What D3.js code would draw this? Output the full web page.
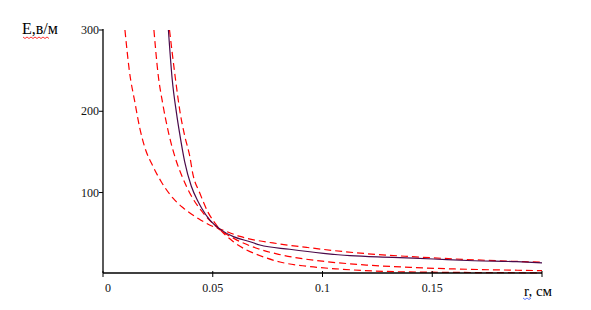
<!DOCTYPE html>
<html><head><meta charset="utf-8">
<script src="https://cdn.jsdelivr.net/npm/d3@7"></script>
<style>body{margin:0;background:#fff}svg{display:block}</style>
</head><body>
<script>
// Data (r in cm, E in V/m)
const rA = [0.0100,0.0120,0.0146,0.0167,0.0190,0.0228,0.0266,0.0319,0.0366,0.0434,0.0503,0.0524,0.0624,0.0806,0.0928,0.1004,0.1200,0.1376,0.1550,0.1748,0.2000];
const eA = [300,250,210,180,156,132,113,93,81,68,58,56,46,36.7,32.5,30,24.8,21.6,19,16.6,14.2];

const rB = [0.0232,0.0250,0.0273,0.0300,0.0330,0.0360,0.0400,0.0450,0.0500,0.0524,0.0600,0.0700,0.0800,0.0900,0.1000,0.1200,0.1400,0.1600,0.1800,0.2000];
const eB = [300,248,208,172,142,120,97,77,62,56,43,31.5,24,19,15.5,10.8,7.9,6.0,4.8,3.9];

const rC = [0.0298,0.0315,0.0335,0.0349,0.0372,0.0402,0.0433,0.0449,0.0487,0.0533,0.0594,0.0670,0.0715,0.0850,0.1004,0.1125,0.1320,0.1505,0.1690,0.1885,0.2000];
const eC = [300,240,197.5,173,138,108,89,81,66,55,45.7,39.5,35.5,30.2,25.2,22.3,20.3,18.2,16.1,14.9,13.5];

const rD = [0.0303,0.0330,0.0351,0.0372,0.0395,0.0410,0.0440,0.0480,0.0517,0.0594,0.0654,0.0700,0.0806,0.0928,0.1080,0.1280,0.1500,0.1750,0.2000];
const eD = [300,240,199,170,145,122,100,75,60,39.5,29.3,24,14.5,9.3,5.8,3.0,2.0,1.5,1.2];

const xTicks = [0,0.05,0.1,0.15];
const xTickLabels = ["0","0.05","0.1","0.15"];
const yTicks = [100,200,300];
const yTickLabels = ["100","200","300"];

const W = 591, H = 310;
const svg = d3.select("body").append("svg").attr("width",W).attr("height",H);
const x = d3.scaleLinear().domain([0,0.2]).range([103,542]);
const y = d3.scaleLinear().domain([1,300]).range([273,30]);

svg.append("defs").append("clipPath").attr("id","c")
  .append("rect").attr("x",103).attr("y",29).attr("width",441).attr("height",245);

const line = d3.line().x(d=>x(d[0])).y(d=>y(Math.max(d[1],1))).curve(d3.curveMonotoneX);
const g = svg.append("g").attr("clip-path","url(#c)");
const series = [
  {r:rA,e:eA,c:"#ff0000",dash:"7,4"},
  {r:rB,e:eB,c:"#ff0000",dash:"7,4"},
  {r:rD,e:eD,c:"#ff0000",dash:"7,4"},
  {r:rC,e:eC,c:"#4a0a4a",dash:null}
];
series.forEach(s=>{
  g.append("path").datum(s.r.map((v,i)=>[v,s.e[i]]))
   .attr("d",line).attr("fill","none").attr("stroke",s.c).attr("stroke-width",1.2)
   .attr("stroke-dasharray",s.dash);
});

// axes
const font = "'Liberation Serif', 'Times New Roman', serif";
svg.append("line").attr("x1",103).attr("x2",103).attr("y1",29).attr("y2",273).attr("stroke","#000").attr("stroke-width",1.3);
svg.append("line").attr("x1",103).attr("x2",542).attr("y1",273).attr("y2",273).attr("stroke","#000").attr("stroke-width",1.3);
yTicks.forEach((t,i)=>{
  svg.append("line").attr("x1",99).attr("x2",103).attr("y1",y(t)).attr("y2",y(t)).attr("stroke","#000");
  svg.append("text").attr("x",99).attr("y",y(t)+4).attr("text-anchor","end")
    .attr("font-family",font).attr("font-size",12).attr("fill","#111").text(yTickLabels[i]);
});
xTicks.concat([0.2]).forEach(t=>{
  svg.append("line").attr("x1",x(t)).attr("x2",x(t)).attr("y1",271).attr("y2",277).attr("stroke","#000");
});
xTicks.forEach((t,i)=>{
  svg.append("text").attr("x",i===0?x(t)+5:x(t)).attr("y",292).attr("text-anchor","middle")
    .attr("font-family",font).attr("font-size",12).attr("fill","#111").text(xTickLabels[i]);
});

// axis titles
svg.append("text").attr("x",22).attr("y",34).attr("font-family",font).attr("font-size",16).text("E,в/м");
svg.append("text").attr("x",524).attr("y",296).attr("font-family",font).attr("font-size",15).text("r, см");

// spell-check style wavy underlines
function wavy(x0,x1,yy,col){
  let p = `M${x0},${yy}`;
  for(let xx=x0, k=0; xx<x1; xx+=2, k++) p += ` L${xx+2},${yy+(k%2?0:1.5)}`;
  svg.append("path").attr("d",p).attr("fill","none").attr("stroke",col).attr("stroke-width",0.8);
}
wavy(23,48,37,"#ff0000");
wavy(523,531,298,"#3355ff");
</script>
</body></html>
